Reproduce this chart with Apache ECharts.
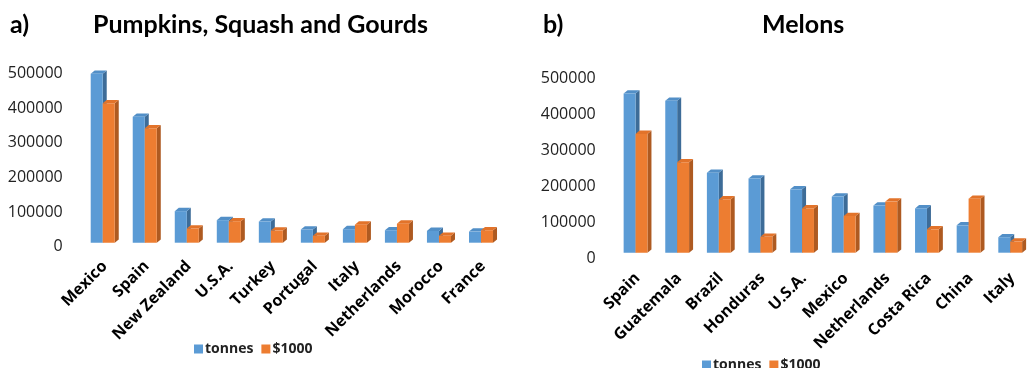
<!DOCTYPE html>
<html>
<head>
<meta charset="utf-8">
<script src="https://cdn.jsdelivr.net/npm/echarts@6/dist/echarts.min.js"></script>
<style>
  html, body { margin: 0; padding: 0; background: #fff; }
  #chart { width: 1033px; height: 368px; }
</style>
</head>
<body>
<div id="chart"></div>
<script>
// Pumpkins, squash and gourds: top exporters
const pumpkinCountries = ['Mexico', 'Spain', 'New Zealand', 'U.S.A.', 'Turkey', 'Portugal', 'Italy', 'Netherlands', 'Morocco', 'France'];
const pumpkinTonnes = [487000, 363000, 91000, 65000, 61000, 38000, 39000, 36000, 34000, 32000];
const pumpkinValue = [402000, 330000, 41000, 62000, 35000, 20000, 52000, 55000, 20000, 36000];

// Melons: top exporters
const melonCountries = ['Spain', 'Guatemala', 'Brazil', 'Honduras', 'U.S.A.', 'Mexico', 'Netherlands', 'Costa Rica', 'China', 'Italy'];
const melonTonnes = [442000, 422000, 222000, 206000, 176000, 156000, 131000, 123000, 76000, 43000];
const melonValue = [330000, 251000, 148000, 44000, 123000, 102000, 142000, 65000, 150000, 31000];

const yTicks = [0, 100000, 200000, 300000, 400000, 500000];

const BLUE = { front: '#5B9BD5', side: '#3D6C98', top: '#528FC7' };
const ORANGE = { front: '#ED7D31', side: '#AE5A21', top: '#E2732A' };

// Pseudo-3D column: front face, right side face and top face
function column3d(slot, col) {
  return function (params, api) {
    const c = api.value(0), v = api.value(1);
    const base = api.coord([c, 0]);
    const top = api.coord([c, v]);
    const band = api.size([1, 0])[0];
    const w = band * 0.286;
    const dx = 4, dy = 3.3;
    const x0 = base[0] - band / 3 + slot * w;
    const yT = top[1], yB = base[1];
    return {
      type: 'group',
      children: [
        { type: 'polygon', shape: { points: [[x0 + w, yT], [x0 + w + dx, yT - dy], [x0 + w + dx, yB - dy], [x0 + w, yB]] },
          style: { fill: col.side } },
        { type: 'polygon', shape: { points: [[x0, yT], [x0 + dx, yT - dy], [x0 + w + dx, yT - dy], [x0 + w, yT]] },
          style: { fill: col.top } },
        { type: 'rect', shape: { x: x0, y: yT, width: w, height: yB - yT },
          style: { fill: col.front } }
      ]
    };
  };
}

function seriesFor(idx, name, values, slot, col) {
  return {
    type: 'custom', name: name, xAxisIndex: idx, yAxisIndex: idx,
    itemStyle: { color: col.front },
    renderItem: column3d(slot, col),
    data: values.map((v, i) => [i, v]),
    encode: { x: 0, y: 1 }
  };
}

const catAxis = (idx, cats, margin) => ({
  type: 'category', gridIndex: idx, data: cats,
  axisLine: { show: false }, axisTick: { show: false },
  axisLabel: { interval: 0, rotate: 45, margin: margin, color: '#000',
    fontFamily: 'Open Sans', fontWeight: 'bold', fontSize: 16 }
});

// lineHeight with top alignment drops each label a few pixels below its tick
const valAxis = (idx, drop) => ({
  type: 'value', gridIndex: idx, min: yTicks[0], max: yTicks[yTicks.length - 1], interval: 100000,
  splitLine: { show: false }, axisLine: { show: false }, axisTick: { show: false },
  axisLabel: { margin: 21, color: '#222', fontFamily: 'Open Sans', fontSize: 16,
    verticalAlign: 'top', lineHeight: drop * 2, formatter: (v) => String(v) }
});

const titleFont = { fontFamily: 'Lato', fontWeight: 'bold', fontSize: 25, color: '#000' };
const legendText = { fontFamily: 'Open Sans', fontWeight: 'bold', fontSize: 14, color: '#222', padding: [0, 0, 0, -3] };

const chart = echarts.init(document.getElementById('chart'), null, { renderer: 'canvas' });
chart.setOption({
  animation: false,
  backgroundColor: '#fff',
  title: [
    { text: 'a)', left: 10, top: 12, padding: 0, textStyle: titleFont },
    { text: 'Pumpkins, Squash and Gourds', left: 93, top: 12, padding: 0, textStyle: titleFont },
    { text: 'b)', left: 543, top: 12, padding: 0, textStyle: titleFont },
    { text: 'Melons', left: 762, top: 12, padding: 0, textStyle: titleFont }
  ],
  legend: [
    { left: 189, top: 337, itemWidth: 9, itemHeight: 9, itemGap: 8, icon: 'rect',
      data: ['tonnes', '$1000'], textStyle: legendText, selectedMode: false },
    { left: 697, top: 353, itemWidth: 9, itemHeight: 9, itemGap: 8, icon: 'rect',
      data: ['tonnes', '$1000'], textStyle: legendText, selectedMode: false }
  ],
  grid: [
    { left: 83.7, width: 420.3, top: 69.3, height: 173.4 },
    { left: 616.7, width: 426.7, top: 72.7, height: 180 }
  ],
  xAxis: [catAxis(0, pumpkinCountries, 21), catAxis(1, melonCountries, 23)],
  yAxis: [valAxis(0, 4), valAxis(1, 5.6)],
  series: [
    seriesFor(0, 'tonnes', pumpkinTonnes, 0, BLUE),
    seriesFor(0, '$1000', pumpkinValue, 1, ORANGE),
    seriesFor(1, 'tonnes', melonTonnes, 0, BLUE),
    seriesFor(1, '$1000', melonValue, 1, ORANGE)
  ]
});
</script>
</body>
</html>
